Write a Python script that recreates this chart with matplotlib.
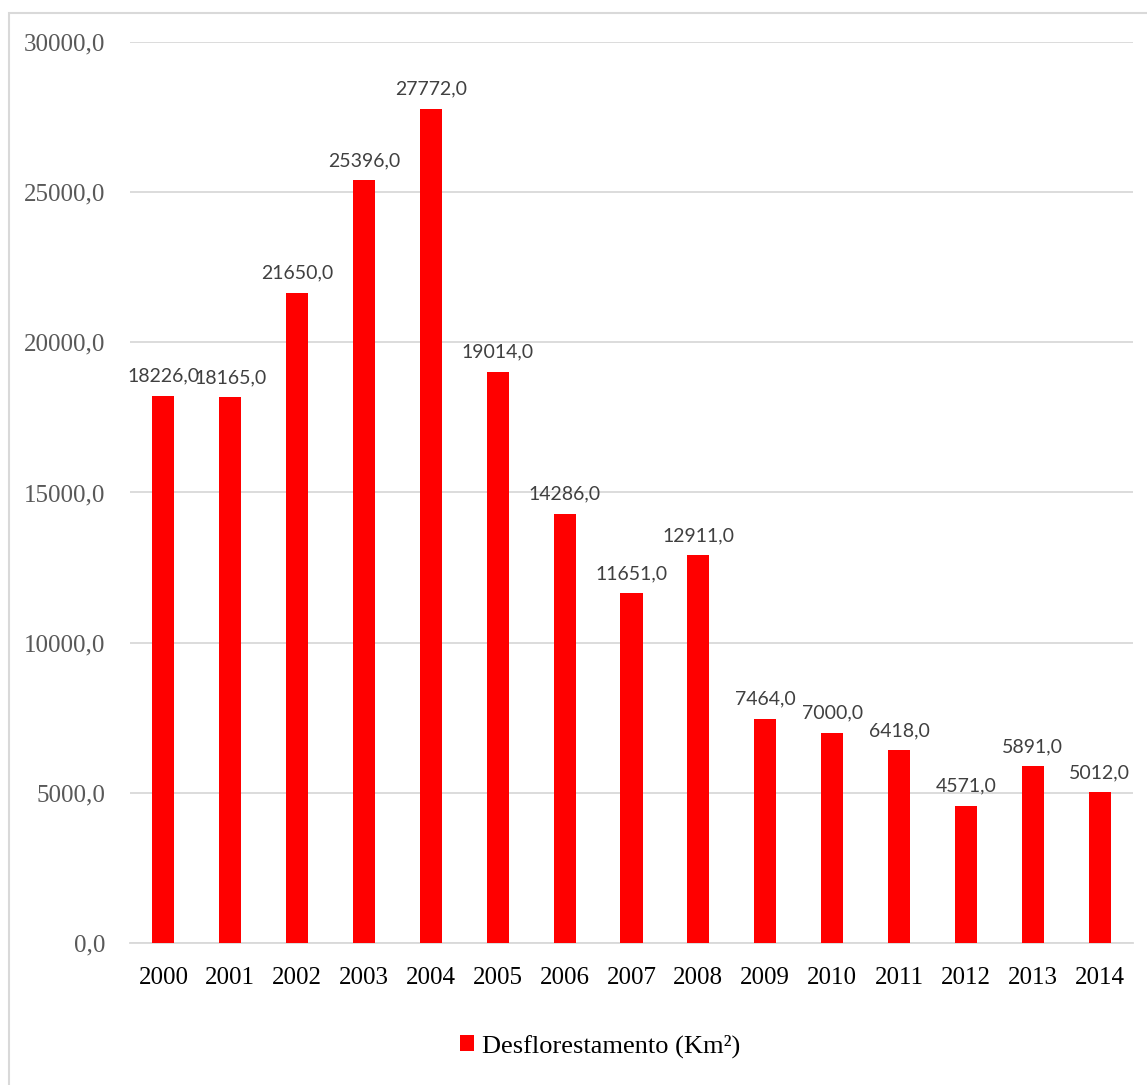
import matplotlib
matplotlib.use("Agg")
import matplotlib.pyplot as plt
from matplotlib.patches import Rectangle

# Data
years = ["2000", "2001", "2002", "2003", "2004", "2005", "2006", "2007",
         "2008", "2009", "2010", "2011", "2012", "2013", "2014"]
desflorestamento = [18226, 18165, 21650, 25396, 27772, 19014, 14286, 11651,
                    12911, 7464, 7000, 6418, 4571, 5891, 5012]
yticks = [0, 5000, 10000, 15000, 20000, 25000, 30000]

serif = "Liberation Serif"
sans = "Lato"

fig = plt.figure(figsize=(11.47, 10.85), dpi=100)
ax = fig.add_axes([130 / 1147, 1 - 943 / 1085, 1003 / 1147, 901 / 1085])

# outer chart border
fig.patches.append(Rectangle((9 / 1147, -0.01), 1.0, 1 - 13 / 1085 + 0.01,
                             transform=fig.transFigure, fill=False,
                             edgecolor="#d9d9d9", linewidth=1.5, zorder=0))

x = range(len(years))
bars = ax.bar(x, desflorestamento, width=0.33, color="#ff0000",
              label="Desflorestamento (Km²)", zorder=3)

for xi, v in zip(x, desflorestamento):
    ax.annotate(f"{v:.1f}".replace(".", ","), (xi, v), xytext=(0, 8),
                textcoords="offset points", ha="center", va="bottom",
                fontsize=14, color="#404040", family=sans)

ax.set_xlim(-0.5, len(years) - 0.5)
ax.set_ylim(0, 30000)
ax.set_yticks(yticks)
ax.set_yticklabels([f"{t:.1f}".replace(".", ",") for t in yticks],
                   fontsize=18, color="#595959", family=serif)
ax.set_xticks(list(x))
ax.set_xticklabels(years, fontsize=18, color="black", family=serif)
ax.tick_params(axis="both", length=0)
ax.tick_params(axis="y", pad=18)
ax.tick_params(axis="x", pad=17)

ax.grid(axis="y", color="#d9d9d9", linewidth=1.3, zorder=0)
for s in ["top", "right", "left"]:
    ax.spines[s].set_visible(False)
ax.spines["bottom"].set_color("#d9d9d9")
ax.spines["bottom"].set_linewidth(1.3)

leg = fig.legend(loc="center", bbox_to_anchor=(600 / 1147, 1 - 1046 / 1085),
                 frameon=False, prop={"family": serif, "size": 19},
                 handlelength=0.55, handleheight=0.55, handletextpad=0.3)

fig.savefig("out.png", dpi=100, facecolor="white")
